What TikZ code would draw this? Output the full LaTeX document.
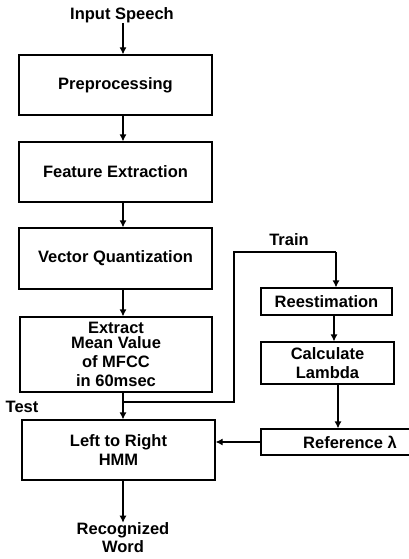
\documentclass[tikz,border=0pt]{standalone}
\usepackage{fontspec}
\setmainfont{Liberation Sans}
\usetikzlibrary{arrows.meta}
\begin{document}
\begin{tikzpicture}[x=1pt,y=-1pt,
  box/.style={draw,line width=1.2pt,rectangle,inner sep=0pt,align=center,font=\bfseries\fontsize{16.5}{19}\selectfont},
  lab/.style={inner sep=0pt,align=center,font=\bfseries\fontsize{16.5}{18}\selectfont},
  arr/.style={line width=1.2pt,-{Latex[length=7pt,width=7pt]}},
  ln/.style={line width=1.2pt}]
\useasboundingbox (0,0) rectangle (409,559);
\coordinate (ax) at (123,0);
\node[lab] (in) at (122,15) {Input Speech};
\node[box,minimum width=193pt,minimum height=60pt] (pre) at (115.5,85) {Preprocessing};
\node[box,minimum width=193pt,minimum height=60pt] (feat) at (115.5,172) {Feature Extraction};
\node[box,minimum width=193pt,minimum height=61pt] (vq) at (115.5,258.5) {Vector Quantization};
\node[box,minimum width=192pt,minimum height=75pt] (ext) at (116,354.5) {Extract\\[-4pt]Mean Value\\of MFCC\\in 60msec};
\node[box,minimum width=193pt,minimum height=60pt] (hmm) at (118.5,450) {Left to Right\\HMM};
\node[box,minimum width=131pt,minimum height=27pt] (rees) at (326.5,301.5) {Reestimation};
\node[box,minimum width=133pt,minimum height=42pt] (calc) at (327.5,363) {Calculate\\Lambda};
\node[box,minimum width=178pt,minimum height=26pt] (ref) at (350,442) {Reference λ};
\node[lab] (test) at (22,407) {Test};
\node[lab] (train) at (289,240) {Train};
\node[lab] (rw) at (123,538) {Recognized\\Word};
\coordinate (j) at (123,402);
\coordinate (t1) at (234,402);
\coordinate (t2) at (234,252);
\coordinate (t3) at (336,252);
\draw[arr] (in.south -| ax) -- (pre.north -| ax);
\draw[arr] (pre.south -| ax) -- (feat.north -| ax);
\draw[arr] (feat.south -| ax) -- (vq.north -| ax);
\draw[arr] (vq.south -| ax) -- (ext.north -| ax);
\draw[arr] (ext.south -| ax) -- (hmm.north -| ax);
\draw[ln] (j) -- (t1) -- (t2) -- (t3);
\draw[arr] (t3) -- (rees.north -| t3);
\draw[arr] (rees.south -| 334,0) -- (calc.north -| 334,0);
\draw[arr] (calc.south -| 338,0) -- (ref.north -| 338,0);
\draw[arr] (ref.west) -- (hmm.east |- ref.west);
\draw[arr] (hmm.south -| ax) -- (rw.north -| ax);
\end{tikzpicture}
\end{document}
